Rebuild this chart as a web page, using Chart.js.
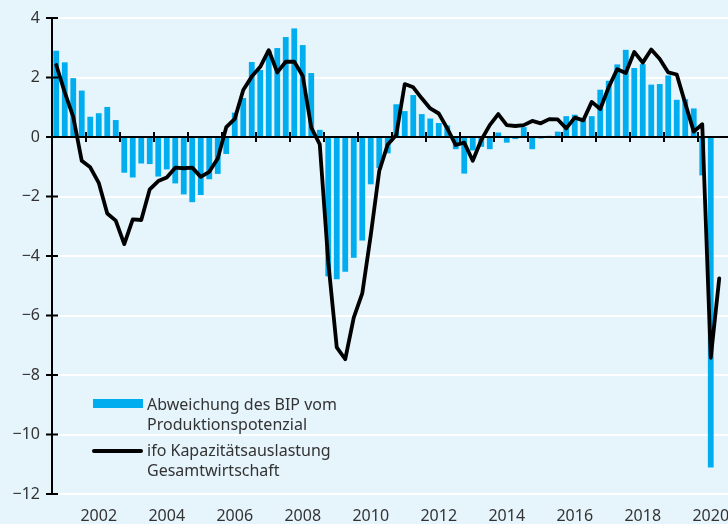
<!DOCTYPE html>
<html>
<head>
<meta charset="utf-8">
<script src="https://cdn.jsdelivr.net/npm/chart.js@4"></script>
<style>
html,body{margin:0;padding:0;overflow:hidden;background:#E6F4FC;}
#wrap{width:732px;height:524px;position:relative;}
</style>
</head>
<body>
<div id="wrap"><canvas id="c"></canvas></div>
<script>
// ---- data ----
const years = [2001,2002,2003,2004,2005,2006,2007,2008,2009,2010,2011,2012,2013,2014,2015,2016,2017,2018,2019,2020];
const quarters = ['Q1','Q2','Q3','Q4'];
const yearTickLabels = ['2002','2004','2006','2008','2010','2012','2014','2016','2018','2020'];
const categories = [];
years.forEach(y => quarters.forEach(q => categories.push(y + ' ' + q)));

// Abweichung des BIP vom Produktionspotenzial (2001 Q1 – 2020 Q2)
const outputGap = [
  2.90, 2.51, 1.98, 1.56,   0.68, 0.80, 1.01, 0.57,
 -1.20,-1.36,-0.89,-0.91,  -1.33,-1.09,-1.56,-1.93,
 -2.19,-1.95,-1.42,-1.24,  -0.57, 0.82, 1.31, 2.52,
  2.25, 2.90, 2.99, 3.36,   3.65, 3.09, 2.15, 0.24,
 -4.68,-4.78,-4.53,-4.06,  -3.48,-1.59,-1.05,-0.55,
  1.10, 0.87, 1.41, 0.77,   0.62, 0.47, 0.39,-0.41,
 -1.23,-0.45,-0.33,-0.41,   0.15,-0.19,-0.07, 0.33,
 -0.41,-0.05, 0.04, 0.18,   0.70, 0.75, 0.60, 0.70,
  1.59, 1.89, 2.44, 2.93,   2.32, 2.45, 1.76, 1.78,
  2.07, 1.25, 1.27, 0.96,  -1.29,-11.11
];

// ifo Kapazitätsauslastung Gesamtwirtschaft (2001 Q1 – 2020 Q3)
const ifoUtilisation = [
  2.42, 1.50, 0.68,-0.80,  -1.02,-1.54,-2.57,-2.81,
 -3.60,-2.77,-2.79,-1.76,  -1.48,-1.36,-1.03,-1.05,
 -1.03,-1.34,-1.17,-0.72,   0.33, 0.61, 1.58, 2.03,
  2.36, 2.92, 2.17, 2.53,   2.53, 2.05, 0.32,-0.25,
 -4.20,-7.07,-7.47,-6.07,  -5.26,-3.30,-1.14,-0.25,
  0.07, 1.78, 1.67, 1.30,   0.96, 0.79, 0.29,-0.27,
 -0.19,-0.80,-0.10, 0.40,   0.77, 0.40, 0.37, 0.40,
  0.54, 0.46, 0.60, 0.59,   0.29, 0.65, 0.56, 1.18,
  0.94, 1.68, 2.28, 2.15,   2.86, 2.50, 2.94, 2.62,
  2.17, 2.10, 1.13, 0.18,   0.43,-7.42,-4.75
];

const seriesNames = [
  ['Abweichung des BIP vom', 'Produktionspotenzial'],
  ['ifo Kapazitätsauslastung', 'Gesamtwirtschaft']
];
const yMin = -12, yMax = 4, yStep = 2;

// ---- style ----
const FONT = "'Noto Sans', sans-serif";
const TEXT = '#333333';
const BAR = '#00AEEF';

const axesPlugin = {
  id: 'axesPlugin',
  afterDatasetsDraw(chart) {
    const {ctx, chartArea: a, scales: {x, y}} = chart;
    ctx.save();
    ctx.strokeStyle = '#000';
    ctx.lineWidth = 2;
    const y0 = y.getPixelForValue(0);
    ctx.beginPath();
    ctx.moveTo(a.left, y0); ctx.lineTo(a.right, y0);
    const slot = x.getPixelForValue(1) - x.getPixelForValue(0);
    categories.forEach((c, i) => {
      if (c.endsWith('Q1')) {
        const px = Math.round(x.getPixelForValue(i) - slot / 2);
        ctx.moveTo(px, y0 - 5); ctx.lineTo(px, y0 + 5);
      }
    });
    ctx.stroke();
    ctx.beginPath();
    ctx.moveTo(a.left, a.top - 1); ctx.lineTo(a.left, a.bottom + 1);
    y.ticks.forEach(t => {
      const py = y.getPixelForValue(t.value);
      ctx.moveTo(a.left - 6, py); ctx.lineTo(a.left + 6, py);
    });
    ctx.stroke();
    ctx.restore();
  },
  afterDraw(chart) {
    const {ctx} = chart;
    const ds = chart.data.datasets;
    ctx.save();
    ctx.font = '16px ' + FONT;
    ctx.fillStyle = TEXT;
    ctx.textBaseline = 'middle';
    ctx.textAlign = 'left';
    // bar item
    ctx.fillStyle = ds[0].backgroundColor;
    ctx.fillRect(93, 399, 50, 9);
    ctx.fillStyle = TEXT;
    ds[0].label.forEach((t, k) => ctx.fillText(t, 147, 405 + k * 20));
    // line item
    ctx.strokeStyle = ds[1].borderColor;
    ctx.lineWidth = 4;
    ctx.lineCap = 'round';
    ctx.beginPath(); ctx.moveTo(94, 451); ctx.lineTo(141, 451); ctx.stroke();
    ds[1].label.forEach((t, k) => ctx.fillText(t, 147, 451 + k * 20));
    ctx.restore();
  }
};

new Chart(document.getElementById('c'), {
  type: 'bar',
  data: {
    labels: categories,
    datasets: [
      {
        type: 'bar',
        label: seriesNames[0],
        data: outputGap,
        backgroundColor: BAR,
        borderWidth: 0,
        barPercentage: 0.68,
        categoryPercentage: 1.0,
        order: 1
      },
      {
        type: 'line',
        label: seriesNames[1],
        data: ifoUtilisation,
        borderColor: '#000000',
        borderWidth: 3.8,
        borderJoinStyle: 'round',
        borderCapStyle: 'round',
        pointRadius: 0,
        tension: 0,
        fill: false,
        order: 0
      }
    ]
  },
  options: {
    responsive: true,
    maintainAspectRatio: false,
    animation: false,
    devicePixelRatio: 1,
    layout: {padding: {top: 18, left: 0, right: 0, bottom: 0}},
    plugins: {legend: {display: false}, tooltip: {enabled: false}},
    scales: {
      x: {
        offset: true,
        grid: {display: false, drawTicks: false},
        border: {display: false},
        ticks: {
          autoSkip: false, maxRotation: 0, minRotation: 0, padding: 13,
          color: TEXT, font: {family: FONT, size: 16},
          callback: function(v, i) {
            const lab = categories[i];
            const yr = lab.slice(0, 4);
            return (lab.endsWith('Q2') && yearTickLabels.includes(yr)) ? yr : '';
          }
        },
        afterFit: s => { s.height = 30; s.paddingLeft = 0; s.paddingRight = 0; }
      },
      y: {
        min: yMin, max: yMax,
        grid: {
          color: c => (c.tick && c.tick.value === 0) ? '#000000' : '#FFFFFF',
          lineWidth: 2, drawTicks: false
        },
        border: {display: false},
        ticks: {
          stepSize: yStep, padding: 12, color: TEXT,
          font: {family: FONT, size: 16},
          callback: v => v < 0 ? '\u2212' + Math.abs(v) : String(v)
        },
        afterFit: s => { s.width = 52; s.paddingTop = 0; s.paddingBottom = 0; }
      }
    }
  },
  plugins: [axesPlugin]
});
</script>
</body>
</html>
